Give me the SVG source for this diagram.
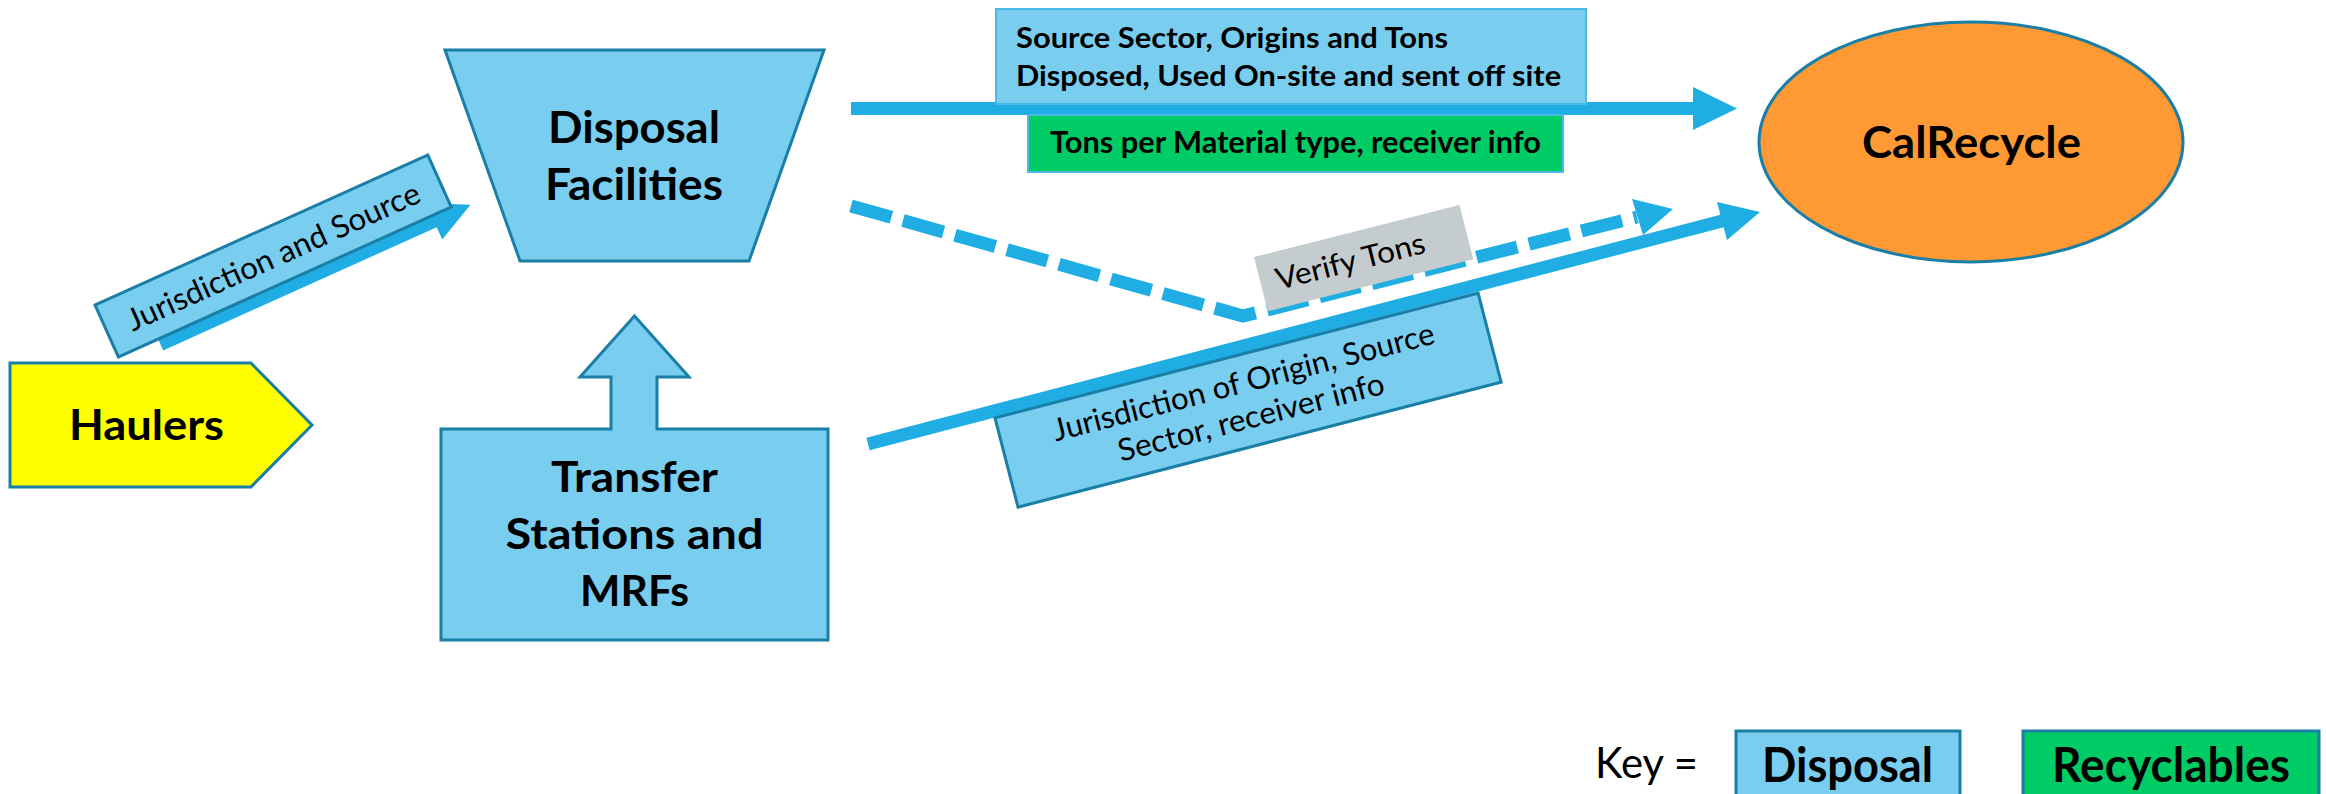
<svg xmlns="http://www.w3.org/2000/svg" width="2326" height="794" viewBox="0 0 2326 794">
<defs>
<style>
.node{fill:#79CEF0;stroke:#1A7FA6;stroke-width:3;stroke-linejoin:miter}
.lbl{fill:#79CEF0;stroke:#1A7FA6;stroke-width:3}
.conn{stroke:#1FADE3;stroke-width:13;fill:none}
.head{fill:#1FADE3;stroke:none}
.t{font-family:Lato,'Open Sans','Liberation Sans',sans-serif;fill:#000}
.b{font-weight:bold}
</style>
</defs>
<rect width="2326" height="794" fill="#fff"/>

<g id="connectors">
  <g transform="translate(160.5,344.5) rotate(-24.25)">
    <polygon class="head" points="0,-6.5 300,-6.5 300,-20 340,0 300,20 300,6.5 0,6.5"/>
  </g>
  <line class="conn" x1="851" y1="108.5" x2="1695" y2="108.5"/>
  <polygon class="head" points="1693,87 1737,108.5 1693,130"/>
  <polyline class="conn" points="851,206 1243,316 1637,217" stroke-dasharray="42 12" stroke-linejoin="miter" stroke-miterlimit="10"/>
  <polygon class="head" points="1632,199 1673,209 1643,235"/>
  <line class="conn" x1="868" y1="444" x2="1724" y2="220.5"/>
  <polygon class="head" points="1717,202 1760,212 1727,240"/>
</g>

<g id="label-jurisdiction-source" transform="translate(95,305) rotate(-24.25)">
  <rect class="lbl" x="0" y="0" width="365" height="57"/>
  <text class="t" x="182.5" y="40" font-size="31" text-anchor="middle" textLength="318" lengthAdjust="spacingAndGlyphs">Jurisdiction and Source</text>
</g>

<g id="label-source-sector">
  <rect x="996" y="9" width="590" height="95" fill="#79CEF0" stroke="#4CB8E6" stroke-width="2"/>
  <text class="t b" x="1016" y="48" font-size="29" textLength="432" lengthAdjust="spacingAndGlyphs">Source Sector, Origins and Tons</text>
  <text class="t b" x="1016" y="86" font-size="29" textLength="545" lengthAdjust="spacingAndGlyphs">Disposed, Used On-site and sent off site</text>
</g>

<g id="label-tons-material">
  <rect x="1028" y="115" width="535" height="57" fill="#00CC66" stroke="#4CB8E6" stroke-width="2"/>
  <text class="t b" x="1050" y="153" font-size="30" textLength="491" lengthAdjust="spacingAndGlyphs">Tons per Material type, receiver info</text>
</g>

<g id="label-verify-tons" transform="translate(1254,257) rotate(-14.2)">
  <rect x="0" y="0" width="212" height="56" fill="#C5CCCF"/>
  <text class="t" x="16" y="38" font-size="30" textLength="153" lengthAdjust="spacingAndGlyphs">Verify Tons</text>
</g>

<g id="label-jurisdiction-origin" transform="translate(995,418) rotate(-14.5)">
  <rect class="lbl" x="0" y="0" width="499" height="92"/>
  <text class="t" x="249.5" y="38" font-size="31" text-anchor="middle" textLength="393" lengthAdjust="spacingAndGlyphs">Jurisdiction of Origin, Source</text>
  <text class="t" x="248" y="74" font-size="31" text-anchor="middle" textLength="274" lengthAdjust="spacingAndGlyphs">Sector, receiver info</text>
</g>

<g id="node-haulers">
  <path d="M10,363 H251 L312,425 L251,487 H10 Z" fill="#FFFF00" stroke="#1A7FA6" stroke-width="3"/>
  <text class="t b" x="146.5" y="440" font-size="42" text-anchor="middle" textLength="155" lengthAdjust="spacingAndGlyphs">Haulers</text>
</g>

<g id="node-disposal">
  <path class="node" d="M445,50 H824 L749,261 H520 Z"/>
  <text class="t b" x="634" y="143" font-size="44" text-anchor="middle" textLength="172" lengthAdjust="spacingAndGlyphs">Disposal</text>
  <text class="t b" x="634" y="200" font-size="44" text-anchor="middle" textLength="178" lengthAdjust="spacingAndGlyphs">Facilities</text>
</g>

<g id="node-transfer">
  <path class="node" d="M441,429 H611 V377 H580 L634.5,316 L689,377 H657 V429 H828 V640 H441 Z"/>
  <text class="t b" x="634.5" y="492" font-size="42" text-anchor="middle" textLength="167" lengthAdjust="spacingAndGlyphs">Transfer</text>
  <text class="t b" x="634.5" y="549" font-size="42" text-anchor="middle" textLength="258" lengthAdjust="spacingAndGlyphs">Stations and</text>
  <text class="t b" x="634.5" y="606" font-size="42" text-anchor="middle" textLength="109" lengthAdjust="spacingAndGlyphs">MRFs</text>
</g>

<g id="node-calrecycle">
  <ellipse cx="1971" cy="142" rx="212" ry="120" fill="#FF9933" stroke="#1A7FA6" stroke-width="3"/>
  <text class="t b" x="1971.5" y="158" font-size="44" text-anchor="middle" textLength="219" lengthAdjust="spacingAndGlyphs">CalRecycle</text>
</g>

<g id="key">
  <text class="t" x="1595" y="778" font-size="42" textLength="103" lengthAdjust="spacingAndGlyphs">Key =</text>
  <rect x="1736" y="731" width="224" height="75" fill="#79CEF0" stroke="#1A7FA6" stroke-width="3"/>
  <text class="t b" x="1847.5" y="782" font-size="47" text-anchor="middle" textLength="171" lengthAdjust="spacingAndGlyphs">Disposal</text>
  <rect x="2023" y="731" width="296" height="75" fill="#00CC66" stroke="#1A7FA6" stroke-width="3"/>
  <text class="t b" x="2171" y="782" font-size="47" text-anchor="middle" textLength="238" lengthAdjust="spacingAndGlyphs">Recyclables</text>
</g>
</svg>
